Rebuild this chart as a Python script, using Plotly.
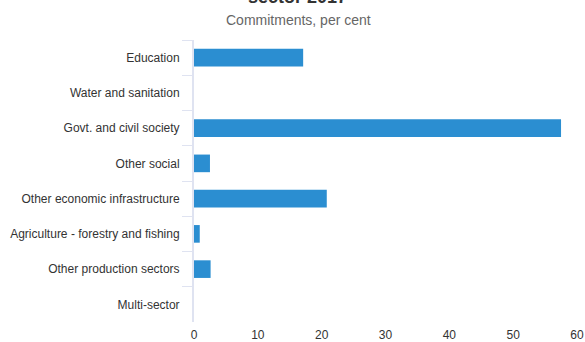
import plotly.graph_objects as go

categories = [
    "Education",
    "Water and sanitation",
    "Govt. and civil society",
    "Other social",
    "Other economic infrastructure",
    "Agriculture - forestry and fishing",
    "Other production sectors",
    "Multi-sector",
]
values = [17.1, 0, 57.5, 2.5, 20.8, 0.9, 2.6, 0]
x_ticks = [0, 10, 20, 30, 40, 50, 60]

title_text = "sector 2017"
subtitle_text = "Commitments, per cent"

fig = go.Figure(
    go.Bar(
        y=categories,
        x=values,
        orientation="h",
        marker=dict(color="#2b8ed1", line=dict(width=0)),
        width=0.5,
        hoverinfo="x+y",
    )
)

axis_col = "#dfe3f1"

fig.update_layout(
    width=585,
    height=342,
    margin=dict(l=194, r=8, t=40, b=20),
    paper_bgcolor="white",
    plot_bgcolor="white",
    showlegend=False,
    font=dict(family="Liberation Sans, Arial, sans-serif", size=12, color="#333333"),
    xaxis=dict(
        range=[0, 60],
        tickvals=x_ticks,
        showgrid=False,
        zeroline=False,
        showline=False,
        ticks="outside",
        ticklen=2,
        tickcolor="rgba(0,0,0,0)",
        automargin=False,
        tickfont=dict(size=12, color="#333333"),
    ),
    yaxis=dict(
        categoryorder="array",
        categoryarray=categories,
        autorange="reversed",
        showgrid=False,
        zeroline=False,
        showline=True,
        linecolor=axis_col,
        linewidth=2,
        ticks="outside",
        tickson="boundaries",
        ticklen=10,
        tickcolor=axis_col,
        tickwidth=1,
        ticklabelstandoff=10,
        automargin=False,
        tickfont=dict(size=12, color="#333333"),
    ),
    annotations=[
        dict(
            text="<b>" + title_text + "</b>",
            xref="paper", yref="paper",
            x=(297 - 194) / 383, y=1 + (40 - 9) / 282,
            xanchor="center", yanchor="bottom",
            showarrow=False,
            font=dict(size=18, color="#333333"),
        ),
        dict(
            text=subtitle_text,
            xref="paper", yref="paper",
            x=(298 - 194) / 383, y=1 + (40 - 20) / 282,
            xanchor="center", yanchor="middle",
            showarrow=False,
            font=dict(size=14, color="#666666"),
        ),
    ],
)

fig.write_html(
    "out.html",
    config={"displayModeBar": False},
    post_script="document.body.style.margin='0';document.body.style.overflow='hidden';",
)
